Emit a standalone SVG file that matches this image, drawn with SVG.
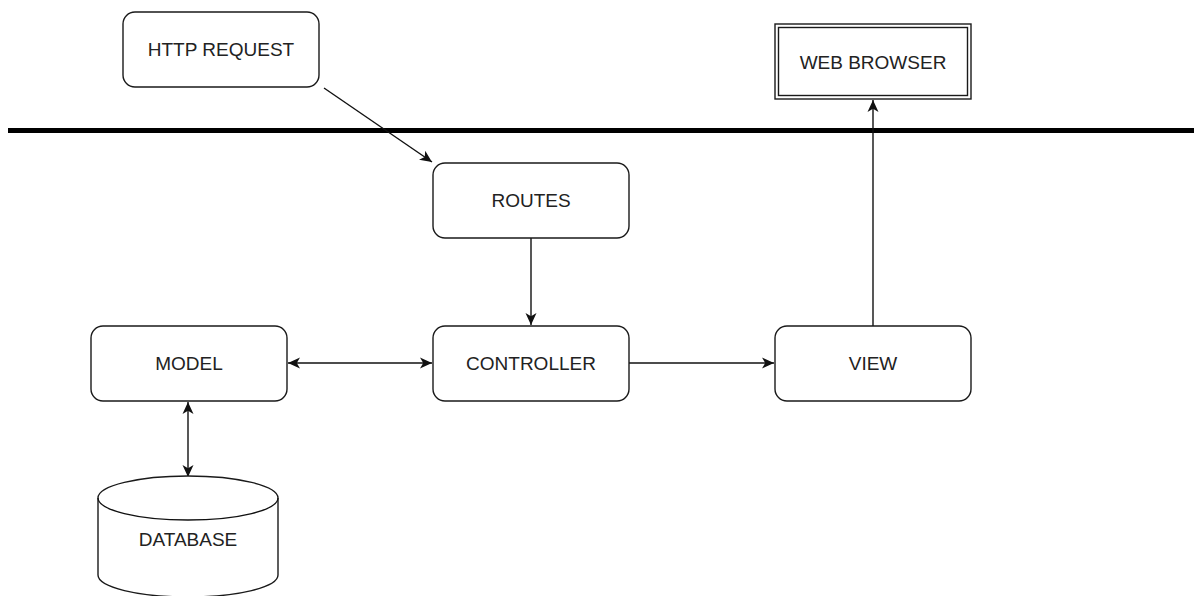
<svg xmlns="http://www.w3.org/2000/svg" width="1194" height="596" viewBox="0 0 1194 596">
<style>
.box{fill:#fff;stroke:#1a1a1a;stroke-width:1.4}
.lbl{font-family:"Liberation Sans",Arial,sans-serif;font-size:19px;fill:#222;text-anchor:middle}
.c{fill:none;stroke:#111;stroke-width:1.4}
</style>
<defs>
<marker id="ah" viewBox="0 0 12 12" refX="12" refY="6" markerWidth="12" markerHeight="12" markerUnits="userSpaceOnUse" orient="auto-start-reverse">
<path d="M0,0.5 L12,6 L0,11.5 L3.2,6 Z" fill="#111"/>
</marker>
</defs>
<rect width="1194" height="596" fill="#fff"/>
<line x1="8" y1="130.5" x2="1194" y2="130.5" stroke="#000" stroke-width="5"/>
<g id="connectors">
<line class="c" x1="324" y1="88" x2="432" y2="162" marker-end="url(#ah)"/>
<line class="c" x1="531" y1="238" x2="531" y2="325" marker-end="url(#ah)"/>
<line class="c" x1="288" y1="363" x2="432" y2="363" marker-start="url(#ah)" marker-end="url(#ah)"/>
<line class="c" x1="629" y1="363" x2="774" y2="363" marker-end="url(#ah)"/>
<line class="c" x1="873" y1="326" x2="873" y2="100" marker-end="url(#ah)"/>
<line class="c" x1="188" y1="402" x2="188" y2="477" marker-start="url(#ah)" marker-end="url(#ah)"/>
</g>
<g id="http-request">
<rect class="box" x="123" y="12" width="196" height="75" rx="12"/>
<text class="lbl" x="221" y="55.5">HTTP REQUEST</text>
</g>
<g id="web-browser">
<rect class="box" x="775" y="24" width="196" height="75"/>
<rect class="box" x="778.5" y="27.5" width="189" height="68"/>
<text class="lbl" x="873" y="68.5">WEB BROWSER</text>
</g>
<g id="routes">
<rect class="box" x="433" y="163" width="196" height="75" rx="12"/>
<text class="lbl" x="531" y="206.5">ROUTES</text>
</g>
<g id="model">
<rect class="box" x="91" y="326" width="196" height="75" rx="12"/>
<text class="lbl" x="189" y="369.5">MODEL</text>
</g>
<g id="controller">
<rect class="box" x="433" y="326" width="196" height="75" rx="12"/>
<text class="lbl" x="531" y="369.5">CONTROLLER</text>
</g>
<g id="view">
<rect class="box" x="775" y="326" width="196" height="75" rx="12"/>
<text class="lbl" x="873" y="369.5">VIEW</text>
</g>
<g id="database">
<path class="box" d="M98,498 A90,22 0 0 1 278,498 L278,575 A90,22 0 0 1 98,575 Z"/>
<path class="c" d="M98,498 A90,22 0 0 0 278,498"/>
<text class="lbl" x="188" y="545.5">DATABASE</text>
</g>
</svg>
